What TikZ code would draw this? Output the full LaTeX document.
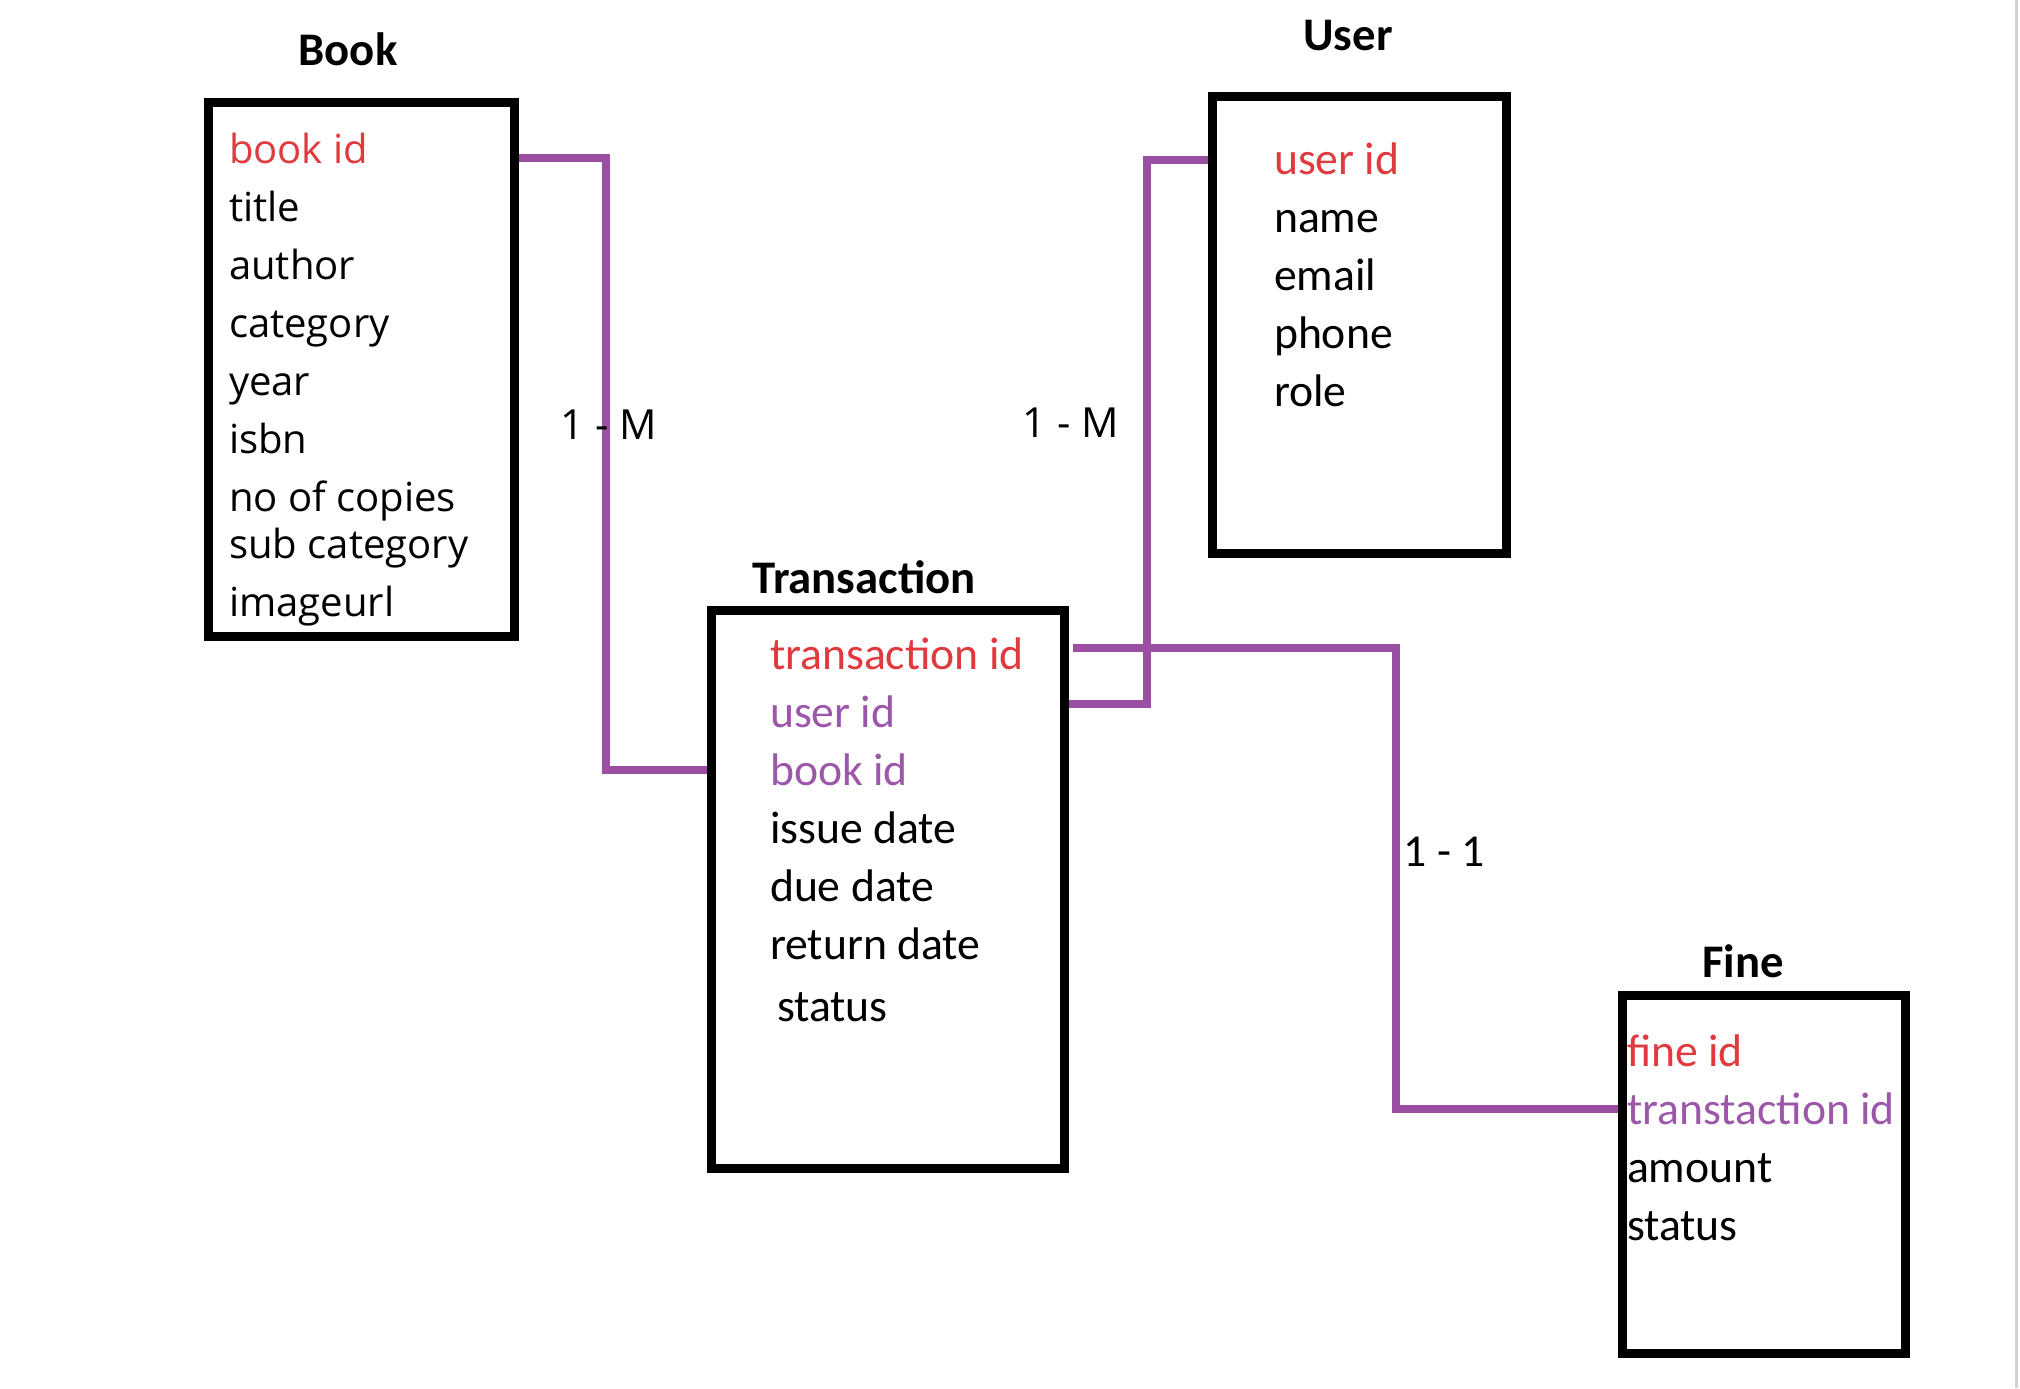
\documentclass[tikz,border=0pt]{standalone}
\usepackage{fontspec}
\setmainfont{Carlito}
\newfontfamily\bookfont{Open Sans}
\usetikzlibrary{positioning}
\definecolor{keyred}{HTML}{E0393E}
\definecolor{fkpurple}{HTML}{9C56AA}
\definecolor{relpurple}{HTML}{9B4FA3}
\definecolor{edgegray}{HTML}{D4D4D4}

\begin{document}
\begin{tikzpicture}[
  x=0.1mm, y=-0.1mm,
  entity/.style={draw=black, line width=0.9mm, anchor=north west, inner sep=0pt},
  title/.style={font=\bfseries\fontsize{13.3}{16}\selectfont},
  attr/.style={inner sep=0pt, outer sep=0pt, text height=4.4mm, text depth=1.4mm, font=\fontsize{13}{15}\selectfont},
  bookattr/.style={attr, font=\bookfont\fontsize{11.4}{14}\selectfont},
  pk/.style={text=keyred},
  fk/.style={text=fkpurple},
  relline/.style={draw=relpurple, line width=0.8mm},
  rellabel/.style={font=\bookfont\fontsize{11.8}{14}\selectfont}
]
  \useasboundingbox (0,0) rectangle (2020,1388);

  % entity boxes and titles
  \node[entity, minimum width=30.6mm, minimum height=53.4mm] (book) at (204,98) {};
  \node[entity, minimum width=29.4mm, minimum height=45.7mm] (user) at (1208,92) {};
  \node[entity, minimum width=35.3mm, minimum height=55.8mm] (trans) at (707,606) {};
  \node[entity, minimum width=28.3mm, minimum height=35.8mm] (fine) at (1618,991) {};

  \node[title] (booktitle) at (348,49) {Book};
  \node[title] (usertitle) at (1348,36) {User};
  \node[title] (transtitle) at (864,577) {Transaction};
  \node[title] (finetitle) at (1743,961) {Fine};

  % Book
  \node[bookattr, pk, anchor=west] (bk1) at (229,149) {book id};
  \node[bookattr, below=0pt of bk1.south west, anchor=north west] (bk2) {title};
  \node[bookattr, below=0pt of bk2.south west, anchor=north west] (bk3) {author};
  \node[bookattr, below=0pt of bk3.south west, anchor=north west] (bk4) {category};
  \node[bookattr, below=0pt of bk4.south west, anchor=north west] (bk5) {year};
  \node[bookattr, below=0pt of bk5.south west, anchor=north west] (bk6) {isbn};
  \node[bookattr, below=0pt of bk6.south west, anchor=north west] (bk7) {no of copies};
  \node[bookattr, below=-1.1mm of bk7.south west, anchor=north west] (bk8) {sub category};
  \node[bookattr, below=0pt of bk8.south west, anchor=north west] (bk9) {imageurl};

  % User
  \node[attr, pk, anchor=west] (us1) at (1274,160) {user id};
  \node[attr, below=0pt of us1.south west, anchor=north west] (us2) {name};
  \node[attr, below=0pt of us2.south west, anchor=north west] (us3) {email};
  \node[attr, below=0pt of us3.south west, anchor=north west] (us4) {phone};
  \node[attr, below=0pt of us4.south west, anchor=north west] (us5) {role};

  % Transaction
  \node[attr, pk, anchor=west] (tr1) at (770,654) {transaction id};
  \node[attr, fk, below=0pt of tr1.south west, anchor=north west] (tr2) {user id};
  \node[attr, fk, below=0pt of tr2.south west, anchor=north west] (tr3) {book id};
  \node[attr, below=0pt of tr3.south west, anchor=north west] (tr4) {issue date};
  \node[attr, below=0pt of tr4.south west, anchor=north west] (tr5) {due date};
  \node[attr, below=0pt of tr5.south west, anchor=north west] (tr6) {return date};
  \node[attr, below=0.4mm of tr6.south west, anchor=north west, xshift=0.7mm] (tr7) {status};

  % Fine
  \node[attr, pk, anchor=west] (fn1) at (1627,1051) {fine id};
  \node[attr, fk, below=0pt of fn1.south west, anchor=north west] (fn2) {transtaction id};
  \node[attr, below=0pt of fn2.south west, anchor=north west] (fn3) {amount};
  \node[attr, below=0pt of fn3.south west, anchor=north west] (fn4) {status};

  % relations
  \draw[relline] (book.east |- bk1) ++(0,9) -- ++(87,0) |- (trans.west |- tr3);
  \draw[relline] (trans.east |- tr2) ++(0,-8) -- ++(78,0) |- (user.west |- us1);
  \draw[relline] (trans.east |- tr1) ++(4,-6) -- ++(323,0) |- (fine.west |- fn2);

  \node[rellabel] (bookrel) at (609,425) {1 - M};
  \node[rellabel] (userrel) at (1071,423) {1 - M};
  \node[font=\fontsize{13}{15}\selectfont] (finerel) at (1444,852) {1 - 1};

  \draw[edgegray, line width=0.3mm] (2016,0) -- (2016,1388);
\end{tikzpicture}
\end{document}
